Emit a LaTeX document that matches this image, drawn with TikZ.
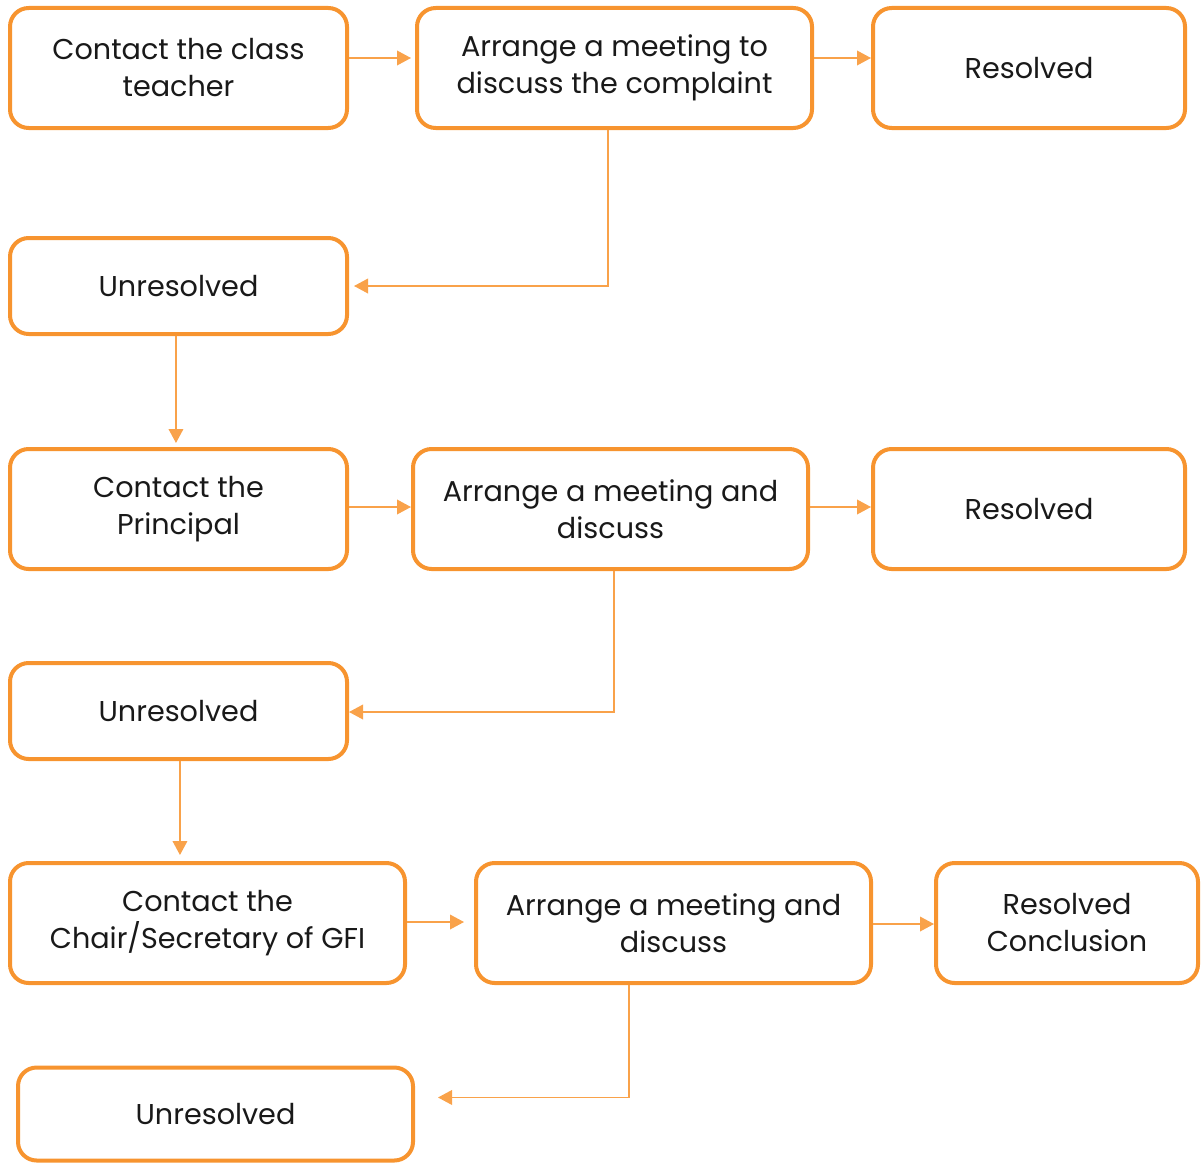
\documentclass[tikz,border=0pt]{standalone}
\usepackage{fontspec}
\setmainfont{Poppins}
\usetikzlibrary{arrows.meta}
\definecolor{boxor}{HTML}{F7942F}
\definecolor{lineor}{HTML}{F9A24A}
\begin{document}
\begin{tikzpicture}[x=0.75pt,y=-0.75pt,
  box/.style={draw=boxor, line width=3pt, rounded corners=14pt, fill=white,
    minimum height=90pt, align=center, inner sep=0pt,
    font=\fontsize{21.5}{27.75}\selectfont, text=black!90},
  ubox/.style={box, minimum height=72pt},
  conn/.style={draw=lineor, line width=1.1pt, -{Triangle[length=10.5pt,width=11pt]}}]
\useasboundingbox (0,0) rectangle (1201,1163);
% row 1
\node[box, minimum width=252.75pt] (B1) at (178.5,68) {Contact the class\\teacher};
\node[box, minimum width=296.25pt] (B2) at (614.5,68) {Arrange a meeting to\\discuss the complaint};
\node[box, minimum width=234pt] (B3) at (1029,68) {Resolved};
\node[ubox, minimum width=252.75pt] (U1) at (178.5,286) {Unresolved};
% row 2
\node[box, minimum width=252.75pt] (B4) at (178.5,509) {Contact the\\Principal};
\node[box, minimum width=296.25pt] (B5) at (610.5,509) {Arrange a meeting and\\discuss};
\node[box, minimum width=234pt] (B6) at (1029,509) {Resolved};
\node[ubox, minimum width=252.75pt] (U2) at (178.5,711) {Unresolved};
% row 3
\node[box, minimum width=296.25pt] (B7) at (207.5,923) {Contact the\\Chair/Secretary of GFI};
\node[box, minimum width=296.25pt] (B8) at (673.5,923) {Arrange a meeting and\\discuss};
\node[box, minimum width=196.5pt] (B9) at (1067,923) {Resolved\\Conclusion};
\node[box, minimum width=296.25pt, minimum height=69.75pt] (U3) at (215.5,1114) {Unresolved};
% connectors
\draw[conn] ([yshift=7.5pt]B1.east) -- ([yshift=7.5pt,xshift=-3pt]B2.west);
\draw[conn] ([yshift=7.5pt]B2.east) -- ([yshift=7.5pt]B3.west);
\draw[conn] ([xshift=-4.9pt]B2.south) |- ([xshift=3.75pt]U1.east);
\draw[conn] ([xshift=-1.9pt]U1.south) -- ([xshift=-1.9pt,yshift=3pt]B4.north);
\draw[conn] ([yshift=1.5pt]B4.east) -- ([yshift=1.5pt]B5.west);
\draw[conn] ([yshift=1.5pt]B5.east) -- ([yshift=1.5pt]B6.west);
\draw[conn] ([xshift=2.6pt]B5.south) |- ([yshift=-0.75pt]U2.east);
\coordinate (u2s) at ([xshift=1.1pt]U2.south);
\coordinate (b7t) at ([yshift=4.5pt]B7.north);
\draw[conn] (u2s) -- (b7t -| u2s);
\draw[conn] ([yshift=0.75pt]B7.east) -- ([yshift=0.75pt,xshift=-7.5pt]B8.west);
\draw[conn] ([yshift=-0.75pt]B8.east) -- ([yshift=-0.75pt]B9.west);
\draw[conn] ([xshift=-33.4pt]B8.south) |- ([xshift=17.25pt,yshift=12.4pt]U3.east);
\end{tikzpicture}
\end{document}
